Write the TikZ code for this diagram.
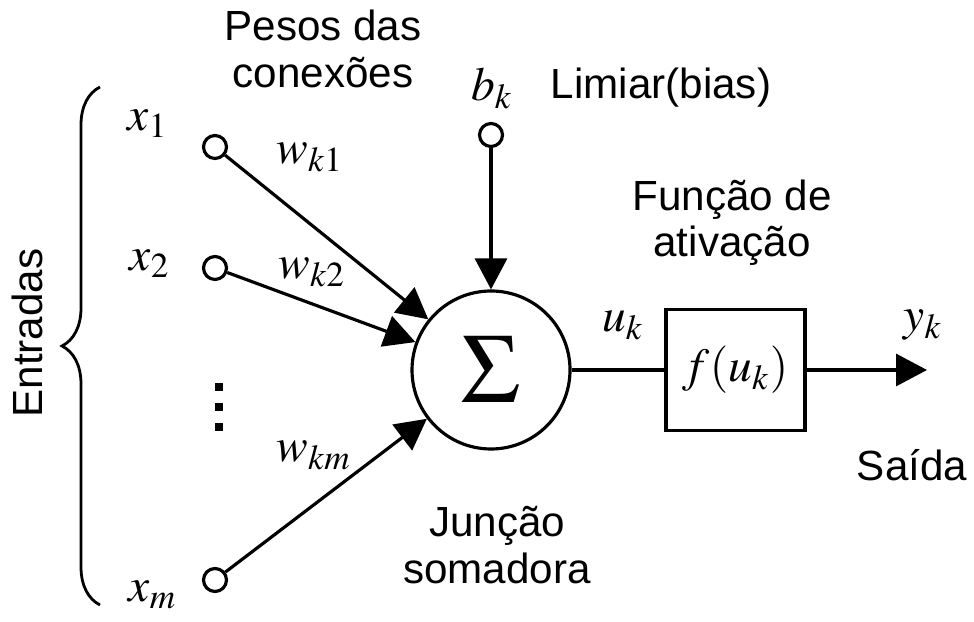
\documentclass[tikz,border=0pt]{standalone}
\usepackage{mathptmx}
\usepackage[no-math]{fontspec}
\setmainfont{Liberation Sans}
\usetikzlibrary{arrows.meta,positioning,decorations.pathreplacing}
\newcommand{\sumsym}{\fontsize{28}{30}\selectfont$\Sigma$}

\begin{document}
\begin{tikzpicture}[->,
		>={Triangle[length=3.1mm,width=3.2mm]},
		line width=0.9pt,
		inputnode/.style={circle,draw,fill=white,inner sep=0pt,minimum size=2.3mm},
		sumnode/.style={circle,draw,inner sep=0pt,minimum size=15.8mm},
		funcnode/.style={rectangle,draw,inner sep=0pt,minimum width=13.9mm,minimum height=12.1mm,font=\fontsize{13.5}{15}\selectfont},
		mathlabel/.style={inner sep=0pt,font=\fontsize{13.5}{15}\selectfont},
		textlabel/.style={inner sep=0pt,align=center,font=\fontsize{12}{13.2}\selectfont}]
		
		\useasboundingbox (0,0) rectangle (9.74,-6.22);
		
		\node[inputnode] (x1) at (2.15, -1.47) {};
		\node[mathlabel] (lx1) at (1.48, -1.24) {$x_1$};
		\node[inputnode] (x2) at (2.15, -2.68) {};
		\node[mathlabel] (lx2) at (1.50, -2.64) {$x_2$};
		\node[inputnode] (xm) at (2.15, -5.80) {};
		\node[mathlabel] (lxm) at (1.53, -5.95) {$x_m$};
		\foreach \y in {3.83, 4.03, 4.23}
			\fill (2.15, -\y) rectangle ++(0.08, -0.08);
		
		\node[inputnode] (b) at (4.91, -1.35) {};
		\node[mathlabel] (lb) at (4.92, -0.88) {$b_k$};
		\node[sumnode] (sum) at (4.91, -3.70) {\sumsym};
		\node[funcnode] (f) at (7.355, -3.70) {$f(u_k)$};
		\coordinate (out) at (9.27, -3.70);
		\node[mathlabel] (lu) at (6.23, -3.25) {$u_k$};
		\node[mathlabel] (ly) at (9.23, -3.25) {$y_k$};
		
		\node[mathlabel] (w1) at (3.10, -1.57) {$w_{k1}$};
		\node[mathlabel] (w2) at (3.12, -2.72) {$w_{k2}$};
		\node[mathlabel] (wm) at (3.14, -4.55) {$w_{km}$};
		
		\node[textlabel] (pesos) at (3.23, -0.49) {Pesos das\\conexões};
		\node[textlabel] (limiar) at (6.61, -0.88) {Limiar(bias)};
		\node[textlabel] (funcao) at (7.32, -2.23) {Função de\\ativação};
		\node[textlabel] (juncao) at (4.97, -5.45) {Junção\\somadora};
		\node[textlabel] (saida) at (9.12, -4.65) {Saída};
		\node[textlabel,rotate=90] (entradas) at (0.27, -3.33) {Entradas};
		
		\draw (x1) to (sum);
		\draw (x2) to (sum);
		\draw (xm) to (sum);
		\draw (b) to (sum);
		\draw[-] (sum) to (f);
		\draw (f) to (out);
		
		\draw[-,line width=0.8pt,decorate,decoration={brace,amplitude=3.8mm}] (1.00, -6.05) -- (1.00, -0.87);
		
	\end{tikzpicture}
\end{document}
